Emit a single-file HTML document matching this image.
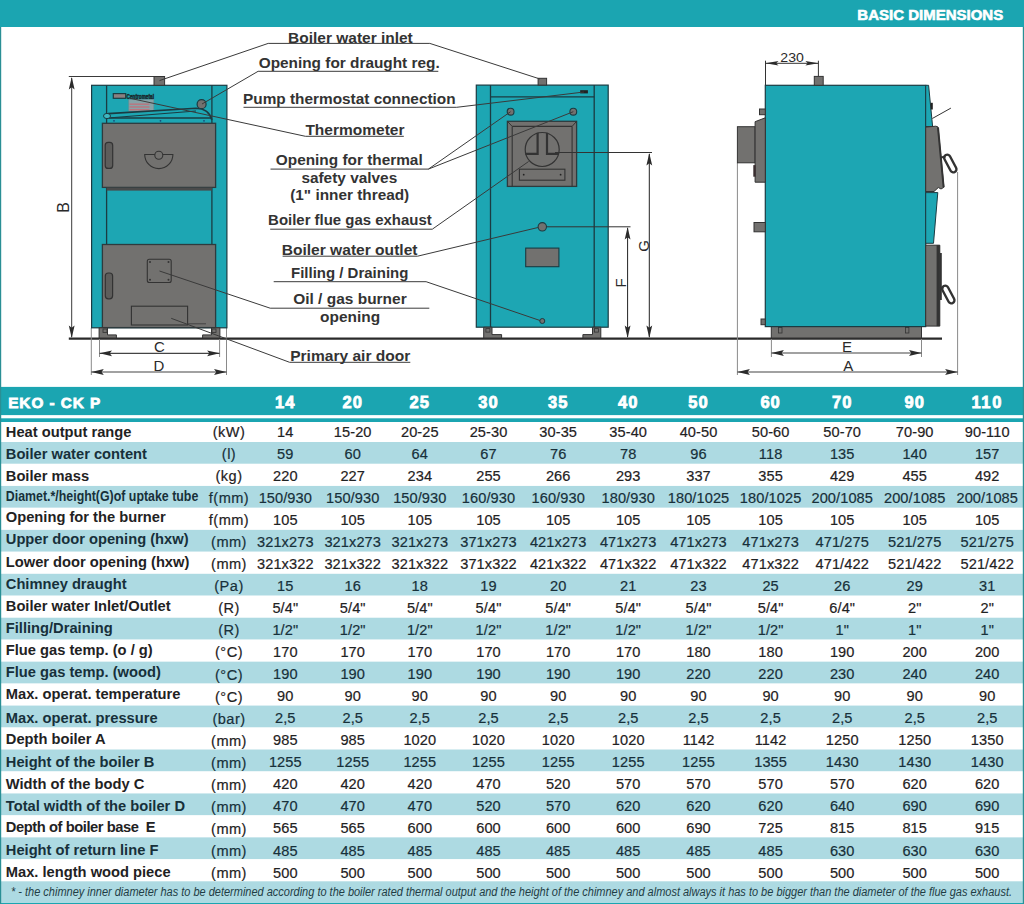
<!DOCTYPE html>
<html><head><meta charset="utf-8"><style>
html,body{margin:0;padding:0;background:#fff;width:1024px;height:904px;overflow:hidden}
svg{display:block}
text{font-family:"Liberation Sans",sans-serif}
</style></head><body>
<svg width="1024" height="904" viewBox="0 0 1024 904">
<line x1="68.8" y1="338.6" x2="942" y2="338.6" stroke="#2a2a2a" stroke-width="2.2"/>
<line x1="68.8" y1="76.5" x2="154" y2="76.5" stroke="#3a3a3a" stroke-width="1"/>
<line x1="71.7" y1="78" x2="71.7" y2="337" stroke="#3a3a3a" stroke-width="1"/>
<polygon points="71.7,77 74.60,89.50 71.70,87.25 68.80,89.50" fill="#2b2b2b"/>
<polygon points="71.7,338 68.80,325.50 71.70,327.75 74.60,325.50" fill="#2b2b2b"/>
<text transform="translate(68.6,207.4) rotate(-90)" text-anchor="middle" font-size="16" fill="#2a2a2a">B</text>
<line x1="91.3" y1="328" x2="91.3" y2="375" stroke="#8a8a8a" stroke-width="1"/>
<line x1="226.5" y1="328" x2="226.5" y2="375" stroke="#8a8a8a" stroke-width="1"/>
<line x1="99.5" y1="339" x2="99.5" y2="357" stroke="#8a8a8a" stroke-width="1"/>
<line x1="219.6" y1="339" x2="219.6" y2="357" stroke="#8a8a8a" stroke-width="1"/>
<line x1="99.5" y1="353.3" x2="219.6" y2="353.3" stroke="#444" stroke-width="1.2"/>
<polygon points="99.5,353.3 112.00,350.40 109.75,353.30 112.00,356.20" fill="#2b2b2b"/>
<polygon points="219.6,353.3 207.10,356.20 209.35,353.30 207.10,350.40" fill="#2b2b2b"/>
<text x="159.3" y="351.8" text-anchor="middle" font-size="15" fill="#2a2a2a">C</text>
<line x1="91.3" y1="372" x2="226.5" y2="372" stroke="#444" stroke-width="1.2"/>
<polygon points="91.3,372 103.80,369.10 101.55,372.00 103.80,374.90" fill="#2b2b2b"/>
<polygon points="226.5,372 214.00,374.90 216.25,372.00 214.00,369.10" fill="#2b2b2b"/>
<text x="158.8" y="370.8" text-anchor="middle" font-size="15" fill="#2a2a2a">D</text>
<rect x="91.6" y="85.3" width="135.30" height="242.50" fill="#1da6b3" stroke="#1b3b42" stroke-width="1.2" rx="0"/>
<line x1="106.6" y1="85.3" x2="106.6" y2="327.8" stroke="#1b3b42" stroke-width="1.3"/>
<line x1="211.9" y1="85.3" x2="211.9" y2="327.8" stroke="#1b3b42" stroke-width="1.3"/>
<rect x="154" y="76.5" width="10.60" height="8.80" fill="#72716f" stroke="#333" stroke-width="1" rx="0"/>
<rect x="113.3" y="93.6" width="12.40" height="4.70" fill="#8b8080" stroke="#1b3b42" stroke-width="1.2" rx="0"/>
<text x="126.5" y="98.6" font-size="6.5" font-weight="bold" fill="#1a2a2e" stroke="#1a2a2e" stroke-width="0.5" textLength="27.5" lengthAdjust="spacingAndGlyphs">Centrometal</text>
<rect x="128.8" y="99.7" width="25.00" height="11.30" fill="#86a3a8" stroke="#6f8b90" stroke-width="0.6" rx="0"/>
<rect x="129.5" y="103.5" width="20" height="1.3" fill="#c0707a"/>
<rect x="129.5" y="106.3" width="20" height="1.3" fill="#c0707a"/>
<rect x="129.5" y="109.1" width="20" height="1.3" fill="#c0707a"/>
<line x1="106.6" y1="118" x2="211.9" y2="118" stroke="#1b3b42" stroke-width="1.3"/>
<path d="M 108 113.6 L 196 108.2 Q 209 108.5 211.9 120" fill="none" stroke="#1b3b42" stroke-width="1.6"/>
<path d="M 108 118 L 196 111 " fill="none" stroke="#1b3b42" stroke-width="1.2"/>
<ellipse cx="107" cy="116" rx="3.5" ry="2.6" fill="#3fb8c2" stroke="#1b3b42" stroke-width="1"/>
<circle cx="114" cy="120.8" r="0.9" fill="#1a4a7a"/>
<circle cx="160.5" cy="120.8" r="0.9" fill="#1a4a7a"/>
<circle cx="204" cy="120.8" r="0.9" fill="#1a4a7a"/>
<circle cx="201.6" cy="104.2" r="4.5" fill="#72716f" stroke="#1b3b42" stroke-width="1.2"/>
<rect x="102.4" y="123.3" width="113.20" height="64.10" fill="#72716f" stroke="#2e3b3e" stroke-width="1.3" rx="0"/>
<rect x="106.6" y="187.6" width="105.3" height="3" fill="#4a4a4a"/>
<rect x="105.2" y="142.4" width="7.5" height="26" rx="3" fill="#5e5d5b" stroke="#333" stroke-width="1.2"/>
<path d="M 144.7 154.5 L 172.9 154.5 A 14.1 14.1 0 0 1 144.7 154.5 Z" fill="#72716f" stroke="#333" stroke-width="1.1"/>
<circle cx="158.8" cy="155.2" r="4" fill="#72716f" stroke="#333" stroke-width="1.1"/>
<rect x="102.4" y="244.5" width="113.20" height="83.10" fill="#72716f" stroke="#2e3b3e" stroke-width="1.3" rx="0"/>
<rect x="147.3" y="259.2" width="23.9" height="23.3" rx="2" fill="#72716f" stroke="#333" stroke-width="1.1"/>
<circle cx="150" cy="262" r="1" fill="#333"/>
<circle cx="168.5" cy="262" r="1" fill="#333"/>
<circle cx="150" cy="279.8" r="1" fill="#333"/>
<circle cx="168.5" cy="279.8" r="1" fill="#333"/>
<rect x="105.3" y="273" width="7.3" height="25.8" rx="3" fill="#5e5d5b" stroke="#333" stroke-width="1.2"/>
<rect x="131.4" y="306.2" width="56.20" height="18.80" fill="#72716f" stroke="#333" stroke-width="1.1" rx="0"/>
<line x1="187.6" y1="323.8" x2="206" y2="323.8" stroke="#444" stroke-width="1"/>
<polygon points="99.1,327.8 107.5,327.8 107.5,334.9 116.39999999999999,334.9 116.39999999999999,338 99.1,338" fill="#72716f" stroke="#333" stroke-width="1"/>
<rect x="103.0" y="329" width="4" height="3.5" fill="#72716f" stroke="#333" stroke-width="0.8"/>
<polygon points="219.9,327.8 211.5,327.8 211.5,334.9 202.6,334.9 202.6,338 219.9,338" fill="#72716f" stroke="#333" stroke-width="1"/>
<rect x="212.0" y="329" width="4" height="3.5" fill="#72716f" stroke="#333" stroke-width="0.8"/>
<rect x="476.3" y="85.1" width="131.90" height="242.10" fill="#1da6b3" stroke="#1b3b42" stroke-width="1.2" rx="0"/>
<line x1="490.5" y1="85.1" x2="490.5" y2="327.2" stroke="#1b3b42" stroke-width="1.3"/>
<line x1="594.2" y1="85.1" x2="594.2" y2="327.2" stroke="#1b3b42" stroke-width="1.3"/>
<line x1="490.5" y1="96.8" x2="594.2" y2="96.8" stroke="#1b3b42" stroke-width="1.3"/>
<rect x="538.1" y="78.3" width="8.50" height="6.80" fill="#72716f" stroke="#333" stroke-width="1" rx="0"/>
<rect x="580.2" y="90.2" width="7.7" height="3.2" fill="#222"/>
<circle cx="510.6" cy="111.7" r="3.4" fill="#72716f" stroke="#1b3b42" stroke-width="1.1"/>
<circle cx="573.3" cy="111.7" r="3.4" fill="#72716f" stroke="#1b3b42" stroke-width="1.1"/>
<rect x="507.4" y="121.3" width="69.20" height="65.10" fill="#72716f" stroke="#2e3b3e" stroke-width="1.3" rx="0"/>
<line x1="512.2" y1="126.4" x2="572.1" y2="126.4" stroke="#333" stroke-width="1.1"/>
<line x1="512.2" y1="126.4" x2="512.2" y2="186.4" stroke="#333" stroke-width="1.1"/>
<line x1="572.1" y1="126.4" x2="572.1" y2="186.4" stroke="#333" stroke-width="1.1"/>
<line x1="507.4" y1="121.3" x2="512.2" y2="126.4" stroke="#333" stroke-width="1"/>
<line x1="576.6" y1="121.3" x2="572.1" y2="126.4" stroke="#333" stroke-width="1"/>
<circle cx="542.2" cy="149.5" r="17" fill="#72716f" stroke="#333" stroke-width="1.2"/>
<path d="M 537.6 132.8 L 537.6 153.8 L 525.4 153.8" fill="none" stroke="#333" stroke-width="2.2"/>
<path d="M 547 132.8 L 547 153.8 L 559 153.8" fill="none" stroke="#333" stroke-width="2.2"/>
<rect x="519.4" y="169.2" width="45.50" height="11.00" fill="#72716f" stroke="#333" stroke-width="1.1" rx="0"/>
<circle cx="523.7" cy="174.7" r="0.9" fill="#222"/>
<circle cx="560.6" cy="174.7" r="0.9" fill="#222"/>
<circle cx="542.3" cy="226.8" r="4.2" fill="#72716f" stroke="#1b3b42" stroke-width="1.1"/>
<rect x="525.7" y="248.1" width="33.20" height="18.60" fill="#72716f" stroke="#1b3b42" stroke-width="1.1" rx="0"/>
<circle cx="542.3" cy="321" r="2.5" fill="#72716f" stroke="#1b3b42" stroke-width="1"/>
<polygon points="483.7,327.2 492.0,327.2 492.0,334.6 501.59999999999997,334.6 501.59999999999997,338 483.7,338" fill="#72716f" stroke="#333" stroke-width="1"/>
<rect x="485.9" y="328.6" width="4" height="3.5" fill="#72716f" stroke="#333" stroke-width="0.8"/>
<polygon points="600.8,327.2 592.5,327.2 592.5,334.6 582.9,334.6 582.9,338 600.8,338" fill="#72716f" stroke="#333" stroke-width="1"/>
<rect x="594.5999999999999" y="328.6" width="4" height="3.5" fill="#72716f" stroke="#333" stroke-width="0.8"/>
<line x1="547" y1="226.8" x2="630.5" y2="226.8" stroke="#333" stroke-width="1"/>
<line x1="627.6" y1="228" x2="627.6" y2="337" stroke="#222" stroke-width="1"/>
<polygon points="627.6,227 630.50,239.50 627.60,237.25 624.70,239.50" fill="#2b2b2b"/>
<polygon points="627.6,338 624.70,325.50 627.60,327.75 630.50,325.50" fill="#2b2b2b"/>
<line x1="555" y1="152.5" x2="652" y2="152.5" stroke="#333" stroke-width="1"/>
<line x1="649.3" y1="154" x2="649.3" y2="337" stroke="#222" stroke-width="1"/>
<polygon points="649.3,153 652.20,165.50 649.30,163.25 646.40,165.50" fill="#2b2b2b"/>
<polygon points="649.3,338 646.40,325.50 649.30,327.75 652.20,325.50" fill="#2b2b2b"/>
<text transform="translate(625.6,283) rotate(-90)" text-anchor="middle" font-size="15" fill="#2a2a2a">F</text>
<text transform="translate(649,246) rotate(-90)" text-anchor="middle" font-size="15" fill="#2a2a2a">G</text>
<line x1="737.4" y1="163" x2="737.4" y2="375" stroke="#8a8a8a" stroke-width="1"/>
<line x1="957.6" y1="172" x2="957.6" y2="375" stroke="#8a8a8a" stroke-width="1"/>
<line x1="737.4" y1="372" x2="957.6" y2="372" stroke="#444" stroke-width="1.2"/>
<polygon points="737.4,372 749.90,369.10 747.65,372.00 749.90,374.90" fill="#2b2b2b"/>
<polygon points="957.6,372 945.10,374.90 947.35,372.00 945.10,369.10" fill="#2b2b2b"/>
<text x="848.2" y="371" text-anchor="middle" font-size="15" fill="#2a2a2a">A</text>
<line x1="771.4" y1="339" x2="771.4" y2="357" stroke="#8a8a8a" stroke-width="1"/>
<line x1="921.5" y1="339" x2="921.5" y2="357" stroke="#8a8a8a" stroke-width="1"/>
<line x1="771.4" y1="353" x2="921.5" y2="353" stroke="#444" stroke-width="1.2"/>
<polygon points="771.4,353 783.90,350.10 781.65,353.00 783.90,355.90" fill="#2b2b2b"/>
<polygon points="921.5,353 909.00,355.90 911.25,353.00 909.00,350.10" fill="#2b2b2b"/>
<text x="847" y="352.2" text-anchor="middle" font-size="15" fill="#2a2a2a">E</text>
<line x1="765.5" y1="60.7" x2="765.5" y2="85" stroke="#333" stroke-width="1"/>
<line x1="818.4" y1="60.7" x2="818.4" y2="76.4" stroke="#333" stroke-width="1"/>
<line x1="765.5" y1="63.3" x2="818.4" y2="63.3" stroke="#333" stroke-width="1"/>
<polygon points="765.5,63.3 778.50,61.00 776.16,63.30 778.50,65.60" fill="#2b2b2b"/>
<polygon points="818.4,63.3 805.40,65.60 807.74,63.30 805.40,61.00" fill="#2b2b2b"/>
<text x="780.3" y="62.2" font-size="12.5" fill="#2a2a2a" textLength="23.5" lengthAdjust="spacingAndGlyphs">230</text>
<rect x="771.3" y="326.4" width="150.20" height="11.60" fill="#72716f" stroke="#333" stroke-width="1" rx="0"/>
<rect x="778.6" y="327.5" width="3.4" height="5.5" fill="#72716f" stroke="#333" stroke-width="0.8"/>
<rect x="905.5" y="327.5" width="3.4" height="5.5" fill="#72716f" stroke="#333" stroke-width="0.8"/>
<rect x="765.3" y="85.3" width="160.40" height="241.30" fill="#1da6b3" stroke="#1b3b42" stroke-width="1.2" rx="0"/>
<rect x="814.3" y="76.4" width="8.90" height="8.90" fill="#72716f" stroke="#333" stroke-width="1" rx="0"/>
<rect x="759.5" y="109" width="5.80" height="5.70" fill="#72716f" stroke="#333" stroke-width="1" rx="0"/>
<rect x="737.4" y="126.7" width="17.70" height="36.10" fill="#72716f" stroke="#333" stroke-width="1" rx="0"/>
<polygon points="755.1,121.7 765.3,117.8 765.3,182.2 755.1,182.2" fill="#72716f" stroke="#333" stroke-width="1"/>
<rect x="753.3" y="165.1" width="2.4" height="11.6" fill="#3a2e30"/>
<rect x="754" y="222.5" width="11.30" height="9.30" fill="#72716f" stroke="#333" stroke-width="1" rx="0"/>
<rect x="761" y="319" width="4.30" height="5.70" fill="#72716f" stroke="#333" stroke-width="1" rx="0"/>
<polygon points="925.7,85.3 928.6,85.3 932.6,126.5 925.7,126.5" fill="#1da6b3" stroke="#1b3b42" stroke-width="1"/>
<rect x="930.6" y="102.8" width="2.2" height="6.7" fill="#222"/>
<line x1="932.3" y1="118.5" x2="950.9" y2="108.1" stroke="#333" stroke-width="1"/>
<polygon points="925.7,127.1 935.9,126.2 938,127 943.9,187.3 941,189 938.3,187.5 934,191.5 925.7,191.5" fill="#72716f" stroke="#333" stroke-width="1"/>
<line x1="938" y1="127.5" x2="943.6" y2="187" stroke="#333" stroke-width="2"/>
<rect x="-3.1" y="-9.6" width="6.2" height="19.2" rx="3.1" fill="none" stroke="#333" stroke-width="2.4" transform="translate(950.3 163.5) rotate(-28)"/>
<line x1="941" y1="157.5" x2="945.5" y2="156.5" stroke="#333" stroke-width="2"/>
<polygon points="925.7,192.6 937.8,192.6 933.5,243.3 925.7,243.3" fill="#1da6b3" stroke="#1b3b42" stroke-width="1"/>
<polygon points="925.7,245.2 939.8,245.2 939.8,326.1 925.7,326.1" fill="#72716f" stroke="#333" stroke-width="1"/>
<rect x="936.6" y="245.2" width="3.2" height="80.9" fill="#333"/>
<rect x="939.8" y="253" width="2" height="47" fill="#333"/>
<rect x="-3.1" y="-9.6" width="6.2" height="19.2" rx="3.1" fill="none" stroke="#333" stroke-width="2.4" transform="translate(948.3 294.5) rotate(-28)"/>
<line x1="940" y1="288" x2="943.5" y2="287.5" stroke="#333" stroke-width="2"/>
<text x="288.1" y="43.2" font-weight="bold" font-size="15.2" fill="#333333" textLength="124.7" lengthAdjust="spacingAndGlyphs">Boiler water inlet</text>
<line x1="268.2" y1="43.4" x2="429.8" y2="43.4" stroke="#3a3a3a" stroke-width="1"/>
<line x1="268.2" y1="43.4" x2="159.5" y2="80.6" stroke="#3a3a3a" stroke-width="1"/>
<line x1="429.8" y1="43.4" x2="540" y2="79" stroke="#3a3a3a" stroke-width="1"/>
<text x="258.7" y="67.9" font-weight="bold" font-size="15.2" fill="#333333" textLength="181.0" lengthAdjust="spacingAndGlyphs">Opening for draught reg.</text>
<line x1="258.1" y1="71.3" x2="438.3" y2="71.3" stroke="#3a3a3a" stroke-width="1"/>
<line x1="258.1" y1="71.3" x2="202" y2="104" stroke="#3a3a3a" stroke-width="1"/>
<text x="243.0" y="103.7" font-weight="bold" font-size="15.2" fill="#333333" textLength="212.6" lengthAdjust="spacingAndGlyphs">Pump thermostat connection</text>
<line x1="243.5" y1="107.3" x2="456.7" y2="107.3" stroke="#3a3a3a" stroke-width="1"/>
<line x1="456.7" y1="107.3" x2="584" y2="92" stroke="#3a3a3a" stroke-width="1"/>
<text x="305.4" y="134.6" font-weight="bold" font-size="15.2" fill="#333333" textLength="99.1" lengthAdjust="spacingAndGlyphs">Thermometer</text>
<line x1="305.4" y1="136.3" x2="403.8" y2="136.3" stroke="#3a3a3a" stroke-width="1"/>
<line x1="305.4" y1="136.3" x2="130.2" y2="98.3" stroke="#3a3a3a" stroke-width="1"/>
<text x="275.8" y="164.7" font-weight="bold" font-size="15.2" fill="#333333" textLength="146.9" lengthAdjust="spacingAndGlyphs">Opening for thermal</text>
<line x1="270.5" y1="169.1" x2="428.4" y2="169.1" stroke="#3a3a3a" stroke-width="1"/>
<line x1="428.4" y1="169.1" x2="510.6" y2="111.7" stroke="#3a3a3a" stroke-width="1"/>
<line x1="428.4" y1="169.1" x2="573.3" y2="111.7" stroke="#3a3a3a" stroke-width="1"/>
<text x="301.4" y="182.6" font-weight="bold" font-size="15.2" fill="#333333" textLength="95.8" lengthAdjust="spacingAndGlyphs">safety valves</text>
<text x="290.2" y="199.7" font-weight="bold" font-size="15.2" fill="#333333" textLength="119.0" lengthAdjust="spacingAndGlyphs">(1&quot; inner thread)</text>
<text x="268.1" y="224.6" font-weight="bold" font-size="15.2" fill="#333333" textLength="163.6" lengthAdjust="spacingAndGlyphs">Boiler flue gas exhaust</text>
<line x1="270.2" y1="229.2" x2="432.3" y2="229.2" stroke="#3a3a3a" stroke-width="1"/>
<line x1="432.3" y1="229.2" x2="528.6" y2="161.5" stroke="#3a3a3a" stroke-width="1"/>
<text x="281.7" y="254.9" font-weight="bold" font-size="15.2" fill="#333333" textLength="135.8" lengthAdjust="spacingAndGlyphs">Boiler water outlet</text>
<line x1="282.6" y1="256.2" x2="417.5" y2="256.2" stroke="#3a3a3a" stroke-width="1"/>
<line x1="417.5" y1="256.2" x2="538" y2="227.5" stroke="#3a3a3a" stroke-width="1"/>
<text x="291.0" y="277.5" font-weight="bold" font-size="15.2" fill="#333333" textLength="117.4" lengthAdjust="spacingAndGlyphs">Filling / Draining</text>
<line x1="273.7" y1="281.7" x2="426.1" y2="281.7" stroke="#3a3a3a" stroke-width="1"/>
<line x1="426.1" y1="281.7" x2="540" y2="320.5" stroke="#3a3a3a" stroke-width="1"/>
<text x="293.2" y="303.7" font-weight="bold" font-size="15.2" fill="#333333" textLength="113.5" lengthAdjust="spacingAndGlyphs">Oil / gas burner</text>
<line x1="270.2" y1="308.2" x2="429.3" y2="308.2" stroke="#3a3a3a" stroke-width="1"/>
<line x1="270.2" y1="308.2" x2="159.5" y2="271" stroke="#3a3a3a" stroke-width="1"/>
<text x="320.1" y="321.6" font-weight="bold" font-size="15.2" fill="#333333" textLength="60.0" lengthAdjust="spacingAndGlyphs">opening</text>
<text x="290.2" y="361.1" font-weight="bold" font-size="15.2" fill="#333333" textLength="120.1" lengthAdjust="spacingAndGlyphs">Primary air door</text>
<line x1="289.6" y1="362.3" x2="410.3" y2="362.3" stroke="#3a3a3a" stroke-width="1"/>
<line x1="289.6" y1="362.3" x2="171.2" y2="318.3" stroke="#3a3a3a" stroke-width="1"/>
<rect x="0" y="0" width="1024" height="27" fill="#1ba5b1"/>
<text x="1003.2" y="19.8" text-anchor="end" font-weight="bold" font-size="15" fill="#fff" stroke="#fff" stroke-width="0.6" letter-spacing="0">BASIC DIMENSIONS</text>
<rect x="0" y="386.9" width="1024" height="28.2" fill="#1ba5b1"/>
<rect x="0" y="418.3" width="1024" height="3.7" fill="#1ba5b1"/>
<text x="8.2" y="407.9" font-weight="bold" font-size="15.3" fill="#fff" stroke="#fff" stroke-width="0.8" textLength="92" lengthAdjust="spacing">EKO - CK P</text>
<text x="285.3" y="408.1" text-anchor="middle" font-weight="bold" font-size="16.5" fill="#fff" stroke="#fff" stroke-width="0.8" letter-spacing="1.0">14</text>
<text x="352.7" y="408.1" text-anchor="middle" font-weight="bold" font-size="16.5" fill="#fff" stroke="#fff" stroke-width="0.8" letter-spacing="1.0">20</text>
<text x="419.8" y="408.1" text-anchor="middle" font-weight="bold" font-size="16.5" fill="#fff" stroke="#fff" stroke-width="0.8" letter-spacing="1.0">25</text>
<text x="488.5" y="408.1" text-anchor="middle" font-weight="bold" font-size="16.5" fill="#fff" stroke="#fff" stroke-width="0.8" letter-spacing="1.0">30</text>
<text x="558.2" y="408.1" text-anchor="middle" font-weight="bold" font-size="16.5" fill="#fff" stroke="#fff" stroke-width="0.8" letter-spacing="1.0">35</text>
<text x="628.2" y="408.1" text-anchor="middle" font-weight="bold" font-size="16.5" fill="#fff" stroke="#fff" stroke-width="0.8" letter-spacing="1.0">40</text>
<text x="698.5" y="408.1" text-anchor="middle" font-weight="bold" font-size="16.5" fill="#fff" stroke="#fff" stroke-width="0.8" letter-spacing="1.0">50</text>
<text x="770.6" y="408.1" text-anchor="middle" font-weight="bold" font-size="16.5" fill="#fff" stroke="#fff" stroke-width="0.8" letter-spacing="1.0">60</text>
<text x="842.2" y="408.1" text-anchor="middle" font-weight="bold" font-size="16.5" fill="#fff" stroke="#fff" stroke-width="0.8" letter-spacing="1.0">70</text>
<text x="914.7" y="408.1" text-anchor="middle" font-weight="bold" font-size="16.5" fill="#fff" stroke="#fff" stroke-width="0.8" letter-spacing="1.0">90</text>
<text x="987.2" y="408.1" text-anchor="middle" font-weight="bold" font-size="16.5" fill="#fff" stroke="#fff" stroke-width="0.8" letter-spacing="1.6">110</text>
<rect x="0" y="442.00" width="1024" height="21.7" fill="#addae2"/>
<rect x="0" y="485.93" width="1024" height="21.7" fill="#addae2"/>
<rect x="0" y="529.86" width="1024" height="21.7" fill="#addae2"/>
<rect x="0" y="573.79" width="1024" height="21.7" fill="#addae2"/>
<rect x="0" y="617.72" width="1024" height="21.7" fill="#addae2"/>
<rect x="0" y="661.65" width="1024" height="21.7" fill="#addae2"/>
<rect x="0" y="705.58" width="1024" height="21.7" fill="#addae2"/>
<rect x="0" y="749.51" width="1024" height="21.7" fill="#addae2"/>
<rect x="0" y="793.44" width="1024" height="21.7" fill="#addae2"/>
<rect x="0" y="837.37" width="1024" height="21.7" fill="#addae2"/>
<text transform="translate(5.8 436.70) scale(0.967 1)" x="0" y="0" font-weight="bold" font-size="15.2" fill="#1f2223">Heat output range</text>
<text transform="translate(229 436.90) scale(0.96 1)" x="0" y="0" text-anchor="middle" font-size="15.2" fill="#1f2223" stroke="#1f2223" stroke-width="0.2" letter-spacing="0.5">(kW)</text>
<text transform="translate(285.3 436.50) scale(0.96 1)" x="0" y="0" text-anchor="middle" font-size="15.2" fill="#1f2223" stroke="#1f2223" stroke-width="0.2" letter-spacing="0.1">14</text>
<text transform="translate(352.7 436.50) scale(0.96 1)" x="0" y="0" text-anchor="middle" font-size="15.2" fill="#1f2223" stroke="#1f2223" stroke-width="0.2" letter-spacing="0.1">15-20</text>
<text transform="translate(419.8 436.50) scale(0.96 1)" x="0" y="0" text-anchor="middle" font-size="15.2" fill="#1f2223" stroke="#1f2223" stroke-width="0.2" letter-spacing="0.1">20-25</text>
<text transform="translate(488.5 436.50) scale(0.96 1)" x="0" y="0" text-anchor="middle" font-size="15.2" fill="#1f2223" stroke="#1f2223" stroke-width="0.2" letter-spacing="0.1">25-30</text>
<text transform="translate(558.2 436.50) scale(0.96 1)" x="0" y="0" text-anchor="middle" font-size="15.2" fill="#1f2223" stroke="#1f2223" stroke-width="0.2" letter-spacing="0.1">30-35</text>
<text transform="translate(628.2 436.50) scale(0.96 1)" x="0" y="0" text-anchor="middle" font-size="15.2" fill="#1f2223" stroke="#1f2223" stroke-width="0.2" letter-spacing="0.1">35-40</text>
<text transform="translate(698.5 436.50) scale(0.96 1)" x="0" y="0" text-anchor="middle" font-size="15.2" fill="#1f2223" stroke="#1f2223" stroke-width="0.2" letter-spacing="0.1">40-50</text>
<text transform="translate(770.6 436.50) scale(0.96 1)" x="0" y="0" text-anchor="middle" font-size="15.2" fill="#1f2223" stroke="#1f2223" stroke-width="0.2" letter-spacing="0.1">50-60</text>
<text transform="translate(842.2 436.50) scale(0.96 1)" x="0" y="0" text-anchor="middle" font-size="15.2" fill="#1f2223" stroke="#1f2223" stroke-width="0.2" letter-spacing="0.1">50-70</text>
<text transform="translate(914.7 436.50) scale(0.96 1)" x="0" y="0" text-anchor="middle" font-size="15.2" fill="#1f2223" stroke="#1f2223" stroke-width="0.2" letter-spacing="0.1">70-90</text>
<text transform="translate(987.2 436.50) scale(0.96 1)" x="0" y="0" text-anchor="middle" font-size="15.2" fill="#1f2223" stroke="#1f2223" stroke-width="0.2" letter-spacing="0.1">90-110</text>
<text transform="translate(5.8 458.70) scale(0.967 1)" x="0" y="0" font-weight="bold" font-size="15.2" fill="#17303a">Boiler water content</text>
<text transform="translate(229 458.96) scale(0.96 1)" x="0" y="0" text-anchor="middle" font-size="15.2" fill="#17303a" stroke="#17303a" stroke-width="0.2" letter-spacing="0.5">(l)</text>
<text transform="translate(285.3 458.56) scale(0.96 1)" x="0" y="0" text-anchor="middle" font-size="15.2" fill="#17303a" stroke="#17303a" stroke-width="0.2" letter-spacing="0.1">59</text>
<text transform="translate(352.7 458.56) scale(0.96 1)" x="0" y="0" text-anchor="middle" font-size="15.2" fill="#17303a" stroke="#17303a" stroke-width="0.2" letter-spacing="0.1">60</text>
<text transform="translate(419.8 458.56) scale(0.96 1)" x="0" y="0" text-anchor="middle" font-size="15.2" fill="#17303a" stroke="#17303a" stroke-width="0.2" letter-spacing="0.1">64</text>
<text transform="translate(488.5 458.56) scale(0.96 1)" x="0" y="0" text-anchor="middle" font-size="15.2" fill="#17303a" stroke="#17303a" stroke-width="0.2" letter-spacing="0.1">67</text>
<text transform="translate(558.2 458.56) scale(0.96 1)" x="0" y="0" text-anchor="middle" font-size="15.2" fill="#17303a" stroke="#17303a" stroke-width="0.2" letter-spacing="0.1">76</text>
<text transform="translate(628.2 458.56) scale(0.96 1)" x="0" y="0" text-anchor="middle" font-size="15.2" fill="#17303a" stroke="#17303a" stroke-width="0.2" letter-spacing="0.1">78</text>
<text transform="translate(698.5 458.56) scale(0.96 1)" x="0" y="0" text-anchor="middle" font-size="15.2" fill="#17303a" stroke="#17303a" stroke-width="0.2" letter-spacing="0.1">96</text>
<text transform="translate(770.6 458.56) scale(0.96 1)" x="0" y="0" text-anchor="middle" font-size="15.2" fill="#17303a" stroke="#17303a" stroke-width="0.2" letter-spacing="0.1">118</text>
<text transform="translate(842.2 458.56) scale(0.96 1)" x="0" y="0" text-anchor="middle" font-size="15.2" fill="#17303a" stroke="#17303a" stroke-width="0.2" letter-spacing="0.1">135</text>
<text transform="translate(914.7 458.56) scale(0.96 1)" x="0" y="0" text-anchor="middle" font-size="15.2" fill="#17303a" stroke="#17303a" stroke-width="0.2" letter-spacing="0.1">140</text>
<text transform="translate(987.2 458.56) scale(0.96 1)" x="0" y="0" text-anchor="middle" font-size="15.2" fill="#17303a" stroke="#17303a" stroke-width="0.2" letter-spacing="0.1">157</text>
<text transform="translate(5.8 480.50) scale(0.967 1)" x="0" y="0" font-weight="bold" font-size="15.2" fill="#1f2223">Boiler mass</text>
<text transform="translate(229 481.01) scale(0.96 1)" x="0" y="0" text-anchor="middle" font-size="15.2" fill="#1f2223" stroke="#1f2223" stroke-width="0.2" letter-spacing="0.5">(kg)</text>
<text transform="translate(285.3 480.61) scale(0.96 1)" x="0" y="0" text-anchor="middle" font-size="15.2" fill="#1f2223" stroke="#1f2223" stroke-width="0.2" letter-spacing="0.1">220</text>
<text transform="translate(352.7 480.61) scale(0.96 1)" x="0" y="0" text-anchor="middle" font-size="15.2" fill="#1f2223" stroke="#1f2223" stroke-width="0.2" letter-spacing="0.1">227</text>
<text transform="translate(419.8 480.61) scale(0.96 1)" x="0" y="0" text-anchor="middle" font-size="15.2" fill="#1f2223" stroke="#1f2223" stroke-width="0.2" letter-spacing="0.1">234</text>
<text transform="translate(488.5 480.61) scale(0.96 1)" x="0" y="0" text-anchor="middle" font-size="15.2" fill="#1f2223" stroke="#1f2223" stroke-width="0.2" letter-spacing="0.1">255</text>
<text transform="translate(558.2 480.61) scale(0.96 1)" x="0" y="0" text-anchor="middle" font-size="15.2" fill="#1f2223" stroke="#1f2223" stroke-width="0.2" letter-spacing="0.1">266</text>
<text transform="translate(628.2 480.61) scale(0.96 1)" x="0" y="0" text-anchor="middle" font-size="15.2" fill="#1f2223" stroke="#1f2223" stroke-width="0.2" letter-spacing="0.1">293</text>
<text transform="translate(698.5 480.61) scale(0.96 1)" x="0" y="0" text-anchor="middle" font-size="15.2" fill="#1f2223" stroke="#1f2223" stroke-width="0.2" letter-spacing="0.1">337</text>
<text transform="translate(770.6 480.61) scale(0.96 1)" x="0" y="0" text-anchor="middle" font-size="15.2" fill="#1f2223" stroke="#1f2223" stroke-width="0.2" letter-spacing="0.1">355</text>
<text transform="translate(842.2 480.61) scale(0.96 1)" x="0" y="0" text-anchor="middle" font-size="15.2" fill="#1f2223" stroke="#1f2223" stroke-width="0.2" letter-spacing="0.1">429</text>
<text transform="translate(914.7 480.61) scale(0.96 1)" x="0" y="0" text-anchor="middle" font-size="15.2" fill="#1f2223" stroke="#1f2223" stroke-width="0.2" letter-spacing="0.1">455</text>
<text transform="translate(987.2 480.61) scale(0.96 1)" x="0" y="0" text-anchor="middle" font-size="15.2" fill="#1f2223" stroke="#1f2223" stroke-width="0.2" letter-spacing="0.1">492</text>
<text transform="translate(5.8 500.50) scale(0.885 1)" x="0" y="0" font-weight="bold" font-size="14.0" fill="#17303a">Diamet.*/height(G)of uptake tube</text>
<text transform="translate(229 503.07) scale(0.96 1)" x="0" y="0" text-anchor="middle" font-size="15.2" fill="#17303a" stroke="#17303a" stroke-width="0.2" letter-spacing="0.5">f(mm)</text>
<text transform="translate(285.3 502.67) scale(0.96 1)" x="0" y="0" text-anchor="middle" font-size="15.2" fill="#17303a" stroke="#17303a" stroke-width="0.2" letter-spacing="0.1">150/930</text>
<text transform="translate(352.7 502.67) scale(0.96 1)" x="0" y="0" text-anchor="middle" font-size="15.2" fill="#17303a" stroke="#17303a" stroke-width="0.2" letter-spacing="0.1">150/930</text>
<text transform="translate(419.8 502.67) scale(0.96 1)" x="0" y="0" text-anchor="middle" font-size="15.2" fill="#17303a" stroke="#17303a" stroke-width="0.2" letter-spacing="0.1">150/930</text>
<text transform="translate(488.5 502.67) scale(0.96 1)" x="0" y="0" text-anchor="middle" font-size="15.2" fill="#17303a" stroke="#17303a" stroke-width="0.2" letter-spacing="0.1">160/930</text>
<text transform="translate(558.2 502.67) scale(0.96 1)" x="0" y="0" text-anchor="middle" font-size="15.2" fill="#17303a" stroke="#17303a" stroke-width="0.2" letter-spacing="0.1">160/930</text>
<text transform="translate(628.2 502.67) scale(0.96 1)" x="0" y="0" text-anchor="middle" font-size="15.2" fill="#17303a" stroke="#17303a" stroke-width="0.2" letter-spacing="0.1">180/930</text>
<text transform="translate(698.5 502.67) scale(0.96 1)" x="0" y="0" text-anchor="middle" font-size="15.2" fill="#17303a" stroke="#17303a" stroke-width="0.2" letter-spacing="0.1">180/1025</text>
<text transform="translate(770.6 502.67) scale(0.96 1)" x="0" y="0" text-anchor="middle" font-size="15.2" fill="#17303a" stroke="#17303a" stroke-width="0.2" letter-spacing="0.1">180/1025</text>
<text transform="translate(842.2 502.67) scale(0.96 1)" x="0" y="0" text-anchor="middle" font-size="15.2" fill="#17303a" stroke="#17303a" stroke-width="0.2" letter-spacing="0.1">200/1085</text>
<text transform="translate(914.7 502.67) scale(0.96 1)" x="0" y="0" text-anchor="middle" font-size="15.2" fill="#17303a" stroke="#17303a" stroke-width="0.2" letter-spacing="0.1">200/1085</text>
<text transform="translate(987.2 502.67) scale(0.96 1)" x="0" y="0" text-anchor="middle" font-size="15.2" fill="#17303a" stroke="#17303a" stroke-width="0.2" letter-spacing="0.1">200/1085</text>
<text transform="translate(5.8 522.20) scale(0.967 1)" x="0" y="0" font-weight="bold" font-size="15.2" fill="#1f2223">Opening for the burner</text>
<text transform="translate(229 525.12) scale(0.96 1)" x="0" y="0" text-anchor="middle" font-size="15.2" fill="#1f2223" stroke="#1f2223" stroke-width="0.2" letter-spacing="0.5">f(mm)</text>
<text transform="translate(285.3 524.72) scale(0.96 1)" x="0" y="0" text-anchor="middle" font-size="15.2" fill="#1f2223" stroke="#1f2223" stroke-width="0.2" letter-spacing="0.1">105</text>
<text transform="translate(352.7 524.72) scale(0.96 1)" x="0" y="0" text-anchor="middle" font-size="15.2" fill="#1f2223" stroke="#1f2223" stroke-width="0.2" letter-spacing="0.1">105</text>
<text transform="translate(419.8 524.72) scale(0.96 1)" x="0" y="0" text-anchor="middle" font-size="15.2" fill="#1f2223" stroke="#1f2223" stroke-width="0.2" letter-spacing="0.1">105</text>
<text transform="translate(488.5 524.72) scale(0.96 1)" x="0" y="0" text-anchor="middle" font-size="15.2" fill="#1f2223" stroke="#1f2223" stroke-width="0.2" letter-spacing="0.1">105</text>
<text transform="translate(558.2 524.72) scale(0.96 1)" x="0" y="0" text-anchor="middle" font-size="15.2" fill="#1f2223" stroke="#1f2223" stroke-width="0.2" letter-spacing="0.1">105</text>
<text transform="translate(628.2 524.72) scale(0.96 1)" x="0" y="0" text-anchor="middle" font-size="15.2" fill="#1f2223" stroke="#1f2223" stroke-width="0.2" letter-spacing="0.1">105</text>
<text transform="translate(698.5 524.72) scale(0.96 1)" x="0" y="0" text-anchor="middle" font-size="15.2" fill="#1f2223" stroke="#1f2223" stroke-width="0.2" letter-spacing="0.1">105</text>
<text transform="translate(770.6 524.72) scale(0.96 1)" x="0" y="0" text-anchor="middle" font-size="15.2" fill="#1f2223" stroke="#1f2223" stroke-width="0.2" letter-spacing="0.1">105</text>
<text transform="translate(842.2 524.72) scale(0.96 1)" x="0" y="0" text-anchor="middle" font-size="15.2" fill="#1f2223" stroke="#1f2223" stroke-width="0.2" letter-spacing="0.1">105</text>
<text transform="translate(914.7 524.72) scale(0.96 1)" x="0" y="0" text-anchor="middle" font-size="15.2" fill="#1f2223" stroke="#1f2223" stroke-width="0.2" letter-spacing="0.1">105</text>
<text transform="translate(987.2 524.72) scale(0.96 1)" x="0" y="0" text-anchor="middle" font-size="15.2" fill="#1f2223" stroke="#1f2223" stroke-width="0.2" letter-spacing="0.1">105</text>
<text transform="translate(5.8 544.30) scale(0.967 1)" x="0" y="0" font-weight="bold" font-size="15.2" fill="#17303a">Upper door opening (hxw)</text>
<text transform="translate(229 547.18) scale(0.96 1)" x="0" y="0" text-anchor="middle" font-size="15.2" fill="#17303a" stroke="#17303a" stroke-width="0.2" letter-spacing="0.5">(mm)</text>
<text transform="translate(285.3 546.78) scale(0.96 1)" x="0" y="0" text-anchor="middle" font-size="15.2" fill="#17303a" stroke="#17303a" stroke-width="0.2" letter-spacing="0.1">321x273</text>
<text transform="translate(352.7 546.78) scale(0.96 1)" x="0" y="0" text-anchor="middle" font-size="15.2" fill="#17303a" stroke="#17303a" stroke-width="0.2" letter-spacing="0.1">321x273</text>
<text transform="translate(419.8 546.78) scale(0.96 1)" x="0" y="0" text-anchor="middle" font-size="15.2" fill="#17303a" stroke="#17303a" stroke-width="0.2" letter-spacing="0.1">321x273</text>
<text transform="translate(488.5 546.78) scale(0.96 1)" x="0" y="0" text-anchor="middle" font-size="15.2" fill="#17303a" stroke="#17303a" stroke-width="0.2" letter-spacing="0.1">371x273</text>
<text transform="translate(558.2 546.78) scale(0.96 1)" x="0" y="0" text-anchor="middle" font-size="15.2" fill="#17303a" stroke="#17303a" stroke-width="0.2" letter-spacing="0.1">421x273</text>
<text transform="translate(628.2 546.78) scale(0.96 1)" x="0" y="0" text-anchor="middle" font-size="15.2" fill="#17303a" stroke="#17303a" stroke-width="0.2" letter-spacing="0.1">471x273</text>
<text transform="translate(698.5 546.78) scale(0.96 1)" x="0" y="0" text-anchor="middle" font-size="15.2" fill="#17303a" stroke="#17303a" stroke-width="0.2" letter-spacing="0.1">471x273</text>
<text transform="translate(770.6 546.78) scale(0.96 1)" x="0" y="0" text-anchor="middle" font-size="15.2" fill="#17303a" stroke="#17303a" stroke-width="0.2" letter-spacing="0.1">471x273</text>
<text transform="translate(842.2 546.78) scale(0.96 1)" x="0" y="0" text-anchor="middle" font-size="15.2" fill="#17303a" stroke="#17303a" stroke-width="0.2" letter-spacing="0.1">471/275</text>
<text transform="translate(914.7 546.78) scale(0.96 1)" x="0" y="0" text-anchor="middle" font-size="15.2" fill="#17303a" stroke="#17303a" stroke-width="0.2" letter-spacing="0.1">521/275</text>
<text transform="translate(987.2 546.78) scale(0.96 1)" x="0" y="0" text-anchor="middle" font-size="15.2" fill="#17303a" stroke="#17303a" stroke-width="0.2" letter-spacing="0.1">521/275</text>
<text transform="translate(5.8 566.70) scale(0.967 1)" x="0" y="0" font-weight="bold" font-size="15.2" fill="#1f2223">Lower door opening (hxw)</text>
<text transform="translate(229 569.23) scale(0.96 1)" x="0" y="0" text-anchor="middle" font-size="15.2" fill="#1f2223" stroke="#1f2223" stroke-width="0.2" letter-spacing="0.5">(mm)</text>
<text transform="translate(285.3 568.83) scale(0.96 1)" x="0" y="0" text-anchor="middle" font-size="15.2" fill="#1f2223" stroke="#1f2223" stroke-width="0.2" letter-spacing="0.1">321x322</text>
<text transform="translate(352.7 568.83) scale(0.96 1)" x="0" y="0" text-anchor="middle" font-size="15.2" fill="#1f2223" stroke="#1f2223" stroke-width="0.2" letter-spacing="0.1">321x322</text>
<text transform="translate(419.8 568.83) scale(0.96 1)" x="0" y="0" text-anchor="middle" font-size="15.2" fill="#1f2223" stroke="#1f2223" stroke-width="0.2" letter-spacing="0.1">321x322</text>
<text transform="translate(488.5 568.83) scale(0.96 1)" x="0" y="0" text-anchor="middle" font-size="15.2" fill="#1f2223" stroke="#1f2223" stroke-width="0.2" letter-spacing="0.1">371x322</text>
<text transform="translate(558.2 568.83) scale(0.96 1)" x="0" y="0" text-anchor="middle" font-size="15.2" fill="#1f2223" stroke="#1f2223" stroke-width="0.2" letter-spacing="0.1">421x322</text>
<text transform="translate(628.2 568.83) scale(0.96 1)" x="0" y="0" text-anchor="middle" font-size="15.2" fill="#1f2223" stroke="#1f2223" stroke-width="0.2" letter-spacing="0.1">471x322</text>
<text transform="translate(698.5 568.83) scale(0.96 1)" x="0" y="0" text-anchor="middle" font-size="15.2" fill="#1f2223" stroke="#1f2223" stroke-width="0.2" letter-spacing="0.1">471x322</text>
<text transform="translate(770.6 568.83) scale(0.96 1)" x="0" y="0" text-anchor="middle" font-size="15.2" fill="#1f2223" stroke="#1f2223" stroke-width="0.2" letter-spacing="0.1">471x322</text>
<text transform="translate(842.2 568.83) scale(0.96 1)" x="0" y="0" text-anchor="middle" font-size="15.2" fill="#1f2223" stroke="#1f2223" stroke-width="0.2" letter-spacing="0.1">471/422</text>
<text transform="translate(914.7 568.83) scale(0.96 1)" x="0" y="0" text-anchor="middle" font-size="15.2" fill="#1f2223" stroke="#1f2223" stroke-width="0.2" letter-spacing="0.1">521/422</text>
<text transform="translate(987.2 568.83) scale(0.96 1)" x="0" y="0" text-anchor="middle" font-size="15.2" fill="#1f2223" stroke="#1f2223" stroke-width="0.2" letter-spacing="0.1">521/422</text>
<text transform="translate(5.8 588.90) scale(0.967 1)" x="0" y="0" font-weight="bold" font-size="15.2" fill="#17303a">Chimney draught</text>
<text transform="translate(229 591.29) scale(0.96 1)" x="0" y="0" text-anchor="middle" font-size="15.2" fill="#17303a" stroke="#17303a" stroke-width="0.2" letter-spacing="0.5">(Pa)</text>
<text transform="translate(285.3 590.89) scale(0.96 1)" x="0" y="0" text-anchor="middle" font-size="15.2" fill="#17303a" stroke="#17303a" stroke-width="0.2" letter-spacing="0.1">15</text>
<text transform="translate(352.7 590.89) scale(0.96 1)" x="0" y="0" text-anchor="middle" font-size="15.2" fill="#17303a" stroke="#17303a" stroke-width="0.2" letter-spacing="0.1">16</text>
<text transform="translate(419.8 590.89) scale(0.96 1)" x="0" y="0" text-anchor="middle" font-size="15.2" fill="#17303a" stroke="#17303a" stroke-width="0.2" letter-spacing="0.1">18</text>
<text transform="translate(488.5 590.89) scale(0.96 1)" x="0" y="0" text-anchor="middle" font-size="15.2" fill="#17303a" stroke="#17303a" stroke-width="0.2" letter-spacing="0.1">19</text>
<text transform="translate(558.2 590.89) scale(0.96 1)" x="0" y="0" text-anchor="middle" font-size="15.2" fill="#17303a" stroke="#17303a" stroke-width="0.2" letter-spacing="0.1">20</text>
<text transform="translate(628.2 590.89) scale(0.96 1)" x="0" y="0" text-anchor="middle" font-size="15.2" fill="#17303a" stroke="#17303a" stroke-width="0.2" letter-spacing="0.1">21</text>
<text transform="translate(698.5 590.89) scale(0.96 1)" x="0" y="0" text-anchor="middle" font-size="15.2" fill="#17303a" stroke="#17303a" stroke-width="0.2" letter-spacing="0.1">23</text>
<text transform="translate(770.6 590.89) scale(0.96 1)" x="0" y="0" text-anchor="middle" font-size="15.2" fill="#17303a" stroke="#17303a" stroke-width="0.2" letter-spacing="0.1">25</text>
<text transform="translate(842.2 590.89) scale(0.96 1)" x="0" y="0" text-anchor="middle" font-size="15.2" fill="#17303a" stroke="#17303a" stroke-width="0.2" letter-spacing="0.1">26</text>
<text transform="translate(914.7 590.89) scale(0.96 1)" x="0" y="0" text-anchor="middle" font-size="15.2" fill="#17303a" stroke="#17303a" stroke-width="0.2" letter-spacing="0.1">29</text>
<text transform="translate(987.2 590.89) scale(0.96 1)" x="0" y="0" text-anchor="middle" font-size="15.2" fill="#17303a" stroke="#17303a" stroke-width="0.2" letter-spacing="0.1">31</text>
<text transform="translate(5.8 611.10) scale(0.967 1)" x="0" y="0" font-weight="bold" font-size="15.2" fill="#1f2223">Boiler water Inlet/Outlet</text>
<text transform="translate(229 613.34) scale(0.96 1)" x="0" y="0" text-anchor="middle" font-size="15.2" fill="#1f2223" stroke="#1f2223" stroke-width="0.2" letter-spacing="0.5">(R)</text>
<text transform="translate(285.3 612.94) scale(0.96 1)" x="0" y="0" text-anchor="middle" font-size="15.2" fill="#1f2223" stroke="#1f2223" stroke-width="0.2" letter-spacing="0.1">5/4&quot;</text>
<text transform="translate(352.7 612.94) scale(0.96 1)" x="0" y="0" text-anchor="middle" font-size="15.2" fill="#1f2223" stroke="#1f2223" stroke-width="0.2" letter-spacing="0.1">5/4&quot;</text>
<text transform="translate(419.8 612.94) scale(0.96 1)" x="0" y="0" text-anchor="middle" font-size="15.2" fill="#1f2223" stroke="#1f2223" stroke-width="0.2" letter-spacing="0.1">5/4&quot;</text>
<text transform="translate(488.5 612.94) scale(0.96 1)" x="0" y="0" text-anchor="middle" font-size="15.2" fill="#1f2223" stroke="#1f2223" stroke-width="0.2" letter-spacing="0.1">5/4&quot;</text>
<text transform="translate(558.2 612.94) scale(0.96 1)" x="0" y="0" text-anchor="middle" font-size="15.2" fill="#1f2223" stroke="#1f2223" stroke-width="0.2" letter-spacing="0.1">5/4&quot;</text>
<text transform="translate(628.2 612.94) scale(0.96 1)" x="0" y="0" text-anchor="middle" font-size="15.2" fill="#1f2223" stroke="#1f2223" stroke-width="0.2" letter-spacing="0.1">5/4&quot;</text>
<text transform="translate(698.5 612.94) scale(0.96 1)" x="0" y="0" text-anchor="middle" font-size="15.2" fill="#1f2223" stroke="#1f2223" stroke-width="0.2" letter-spacing="0.1">5/4&quot;</text>
<text transform="translate(770.6 612.94) scale(0.96 1)" x="0" y="0" text-anchor="middle" font-size="15.2" fill="#1f2223" stroke="#1f2223" stroke-width="0.2" letter-spacing="0.1">5/4&quot;</text>
<text transform="translate(842.2 612.94) scale(0.96 1)" x="0" y="0" text-anchor="middle" font-size="15.2" fill="#1f2223" stroke="#1f2223" stroke-width="0.2" letter-spacing="0.1">6/4&quot;</text>
<text transform="translate(914.7 612.94) scale(0.96 1)" x="0" y="0" text-anchor="middle" font-size="15.2" fill="#1f2223" stroke="#1f2223" stroke-width="0.2" letter-spacing="0.1">2&quot;</text>
<text transform="translate(987.2 612.94) scale(0.96 1)" x="0" y="0" text-anchor="middle" font-size="15.2" fill="#1f2223" stroke="#1f2223" stroke-width="0.2" letter-spacing="0.1">2&quot;</text>
<text transform="translate(5.8 633.40) scale(0.967 1)" x="0" y="0" font-weight="bold" font-size="15.2" fill="#17303a">Filling/Draining</text>
<text transform="translate(229 635.39) scale(0.96 1)" x="0" y="0" text-anchor="middle" font-size="15.2" fill="#17303a" stroke="#17303a" stroke-width="0.2" letter-spacing="0.5">(R)</text>
<text transform="translate(285.3 635.00) scale(0.96 1)" x="0" y="0" text-anchor="middle" font-size="15.2" fill="#17303a" stroke="#17303a" stroke-width="0.2" letter-spacing="0.1">1/2&quot;</text>
<text transform="translate(352.7 635.00) scale(0.96 1)" x="0" y="0" text-anchor="middle" font-size="15.2" fill="#17303a" stroke="#17303a" stroke-width="0.2" letter-spacing="0.1">1/2&quot;</text>
<text transform="translate(419.8 635.00) scale(0.96 1)" x="0" y="0" text-anchor="middle" font-size="15.2" fill="#17303a" stroke="#17303a" stroke-width="0.2" letter-spacing="0.1">1/2&quot;</text>
<text transform="translate(488.5 635.00) scale(0.96 1)" x="0" y="0" text-anchor="middle" font-size="15.2" fill="#17303a" stroke="#17303a" stroke-width="0.2" letter-spacing="0.1">1/2&quot;</text>
<text transform="translate(558.2 635.00) scale(0.96 1)" x="0" y="0" text-anchor="middle" font-size="15.2" fill="#17303a" stroke="#17303a" stroke-width="0.2" letter-spacing="0.1">1/2&quot;</text>
<text transform="translate(628.2 635.00) scale(0.96 1)" x="0" y="0" text-anchor="middle" font-size="15.2" fill="#17303a" stroke="#17303a" stroke-width="0.2" letter-spacing="0.1">1/2&quot;</text>
<text transform="translate(698.5 635.00) scale(0.96 1)" x="0" y="0" text-anchor="middle" font-size="15.2" fill="#17303a" stroke="#17303a" stroke-width="0.2" letter-spacing="0.1">1/2&quot;</text>
<text transform="translate(770.6 635.00) scale(0.96 1)" x="0" y="0" text-anchor="middle" font-size="15.2" fill="#17303a" stroke="#17303a" stroke-width="0.2" letter-spacing="0.1">1/2&quot;</text>
<text transform="translate(842.2 635.00) scale(0.96 1)" x="0" y="0" text-anchor="middle" font-size="15.2" fill="#17303a" stroke="#17303a" stroke-width="0.2" letter-spacing="0.1">1&quot;</text>
<text transform="translate(914.7 635.00) scale(0.96 1)" x="0" y="0" text-anchor="middle" font-size="15.2" fill="#17303a" stroke="#17303a" stroke-width="0.2" letter-spacing="0.1">1&quot;</text>
<text transform="translate(987.2 635.00) scale(0.96 1)" x="0" y="0" text-anchor="middle" font-size="15.2" fill="#17303a" stroke="#17303a" stroke-width="0.2" letter-spacing="0.1">1&quot;</text>
<text transform="translate(5.8 655.40) scale(0.967 1)" x="0" y="0" font-weight="bold" font-size="15.2" fill="#1f2223">Flue gas temp. (o / g)</text>
<text transform="translate(229 657.45) scale(0.96 1)" x="0" y="0" text-anchor="middle" font-size="15.2" fill="#1f2223" stroke="#1f2223" stroke-width="0.2" letter-spacing="0.5">(°C)</text>
<text transform="translate(285.3 657.05) scale(0.96 1)" x="0" y="0" text-anchor="middle" font-size="15.2" fill="#1f2223" stroke="#1f2223" stroke-width="0.2" letter-spacing="0.1">170</text>
<text transform="translate(352.7 657.05) scale(0.96 1)" x="0" y="0" text-anchor="middle" font-size="15.2" fill="#1f2223" stroke="#1f2223" stroke-width="0.2" letter-spacing="0.1">170</text>
<text transform="translate(419.8 657.05) scale(0.96 1)" x="0" y="0" text-anchor="middle" font-size="15.2" fill="#1f2223" stroke="#1f2223" stroke-width="0.2" letter-spacing="0.1">170</text>
<text transform="translate(488.5 657.05) scale(0.96 1)" x="0" y="0" text-anchor="middle" font-size="15.2" fill="#1f2223" stroke="#1f2223" stroke-width="0.2" letter-spacing="0.1">170</text>
<text transform="translate(558.2 657.05) scale(0.96 1)" x="0" y="0" text-anchor="middle" font-size="15.2" fill="#1f2223" stroke="#1f2223" stroke-width="0.2" letter-spacing="0.1">170</text>
<text transform="translate(628.2 657.05) scale(0.96 1)" x="0" y="0" text-anchor="middle" font-size="15.2" fill="#1f2223" stroke="#1f2223" stroke-width="0.2" letter-spacing="0.1">170</text>
<text transform="translate(698.5 657.05) scale(0.96 1)" x="0" y="0" text-anchor="middle" font-size="15.2" fill="#1f2223" stroke="#1f2223" stroke-width="0.2" letter-spacing="0.1">180</text>
<text transform="translate(770.6 657.05) scale(0.96 1)" x="0" y="0" text-anchor="middle" font-size="15.2" fill="#1f2223" stroke="#1f2223" stroke-width="0.2" letter-spacing="0.1">180</text>
<text transform="translate(842.2 657.05) scale(0.96 1)" x="0" y="0" text-anchor="middle" font-size="15.2" fill="#1f2223" stroke="#1f2223" stroke-width="0.2" letter-spacing="0.1">190</text>
<text transform="translate(914.7 657.05) scale(0.96 1)" x="0" y="0" text-anchor="middle" font-size="15.2" fill="#1f2223" stroke="#1f2223" stroke-width="0.2" letter-spacing="0.1">200</text>
<text transform="translate(987.2 657.05) scale(0.96 1)" x="0" y="0" text-anchor="middle" font-size="15.2" fill="#1f2223" stroke="#1f2223" stroke-width="0.2" letter-spacing="0.1">200</text>
<text transform="translate(5.8 677.20) scale(0.967 1)" x="0" y="0" font-weight="bold" font-size="15.2" fill="#17303a">Flue gas temp. (wood)</text>
<text transform="translate(229 679.50) scale(0.96 1)" x="0" y="0" text-anchor="middle" font-size="15.2" fill="#17303a" stroke="#17303a" stroke-width="0.2" letter-spacing="0.5">(°C)</text>
<text transform="translate(285.3 679.11) scale(0.96 1)" x="0" y="0" text-anchor="middle" font-size="15.2" fill="#17303a" stroke="#17303a" stroke-width="0.2" letter-spacing="0.1">190</text>
<text transform="translate(352.7 679.11) scale(0.96 1)" x="0" y="0" text-anchor="middle" font-size="15.2" fill="#17303a" stroke="#17303a" stroke-width="0.2" letter-spacing="0.1">190</text>
<text transform="translate(419.8 679.11) scale(0.96 1)" x="0" y="0" text-anchor="middle" font-size="15.2" fill="#17303a" stroke="#17303a" stroke-width="0.2" letter-spacing="0.1">190</text>
<text transform="translate(488.5 679.11) scale(0.96 1)" x="0" y="0" text-anchor="middle" font-size="15.2" fill="#17303a" stroke="#17303a" stroke-width="0.2" letter-spacing="0.1">190</text>
<text transform="translate(558.2 679.11) scale(0.96 1)" x="0" y="0" text-anchor="middle" font-size="15.2" fill="#17303a" stroke="#17303a" stroke-width="0.2" letter-spacing="0.1">190</text>
<text transform="translate(628.2 679.11) scale(0.96 1)" x="0" y="0" text-anchor="middle" font-size="15.2" fill="#17303a" stroke="#17303a" stroke-width="0.2" letter-spacing="0.1">190</text>
<text transform="translate(698.5 679.11) scale(0.96 1)" x="0" y="0" text-anchor="middle" font-size="15.2" fill="#17303a" stroke="#17303a" stroke-width="0.2" letter-spacing="0.1">220</text>
<text transform="translate(770.6 679.11) scale(0.96 1)" x="0" y="0" text-anchor="middle" font-size="15.2" fill="#17303a" stroke="#17303a" stroke-width="0.2" letter-spacing="0.1">220</text>
<text transform="translate(842.2 679.11) scale(0.96 1)" x="0" y="0" text-anchor="middle" font-size="15.2" fill="#17303a" stroke="#17303a" stroke-width="0.2" letter-spacing="0.1">230</text>
<text transform="translate(914.7 679.11) scale(0.96 1)" x="0" y="0" text-anchor="middle" font-size="15.2" fill="#17303a" stroke="#17303a" stroke-width="0.2" letter-spacing="0.1">240</text>
<text transform="translate(987.2 679.11) scale(0.96 1)" x="0" y="0" text-anchor="middle" font-size="15.2" fill="#17303a" stroke="#17303a" stroke-width="0.2" letter-spacing="0.1">240</text>
<text transform="translate(5.8 699.20) scale(0.967 1)" x="0" y="0" font-weight="bold" font-size="15.2" fill="#1f2223">Max. operat. temperature</text>
<text transform="translate(229 701.56) scale(0.96 1)" x="0" y="0" text-anchor="middle" font-size="15.2" fill="#1f2223" stroke="#1f2223" stroke-width="0.2" letter-spacing="0.5">(°C)</text>
<text transform="translate(285.3 701.16) scale(0.96 1)" x="0" y="0" text-anchor="middle" font-size="15.2" fill="#1f2223" stroke="#1f2223" stroke-width="0.2" letter-spacing="0.1">90</text>
<text transform="translate(352.7 701.16) scale(0.96 1)" x="0" y="0" text-anchor="middle" font-size="15.2" fill="#1f2223" stroke="#1f2223" stroke-width="0.2" letter-spacing="0.1">90</text>
<text transform="translate(419.8 701.16) scale(0.96 1)" x="0" y="0" text-anchor="middle" font-size="15.2" fill="#1f2223" stroke="#1f2223" stroke-width="0.2" letter-spacing="0.1">90</text>
<text transform="translate(488.5 701.16) scale(0.96 1)" x="0" y="0" text-anchor="middle" font-size="15.2" fill="#1f2223" stroke="#1f2223" stroke-width="0.2" letter-spacing="0.1">90</text>
<text transform="translate(558.2 701.16) scale(0.96 1)" x="0" y="0" text-anchor="middle" font-size="15.2" fill="#1f2223" stroke="#1f2223" stroke-width="0.2" letter-spacing="0.1">90</text>
<text transform="translate(628.2 701.16) scale(0.96 1)" x="0" y="0" text-anchor="middle" font-size="15.2" fill="#1f2223" stroke="#1f2223" stroke-width="0.2" letter-spacing="0.1">90</text>
<text transform="translate(698.5 701.16) scale(0.96 1)" x="0" y="0" text-anchor="middle" font-size="15.2" fill="#1f2223" stroke="#1f2223" stroke-width="0.2" letter-spacing="0.1">90</text>
<text transform="translate(770.6 701.16) scale(0.96 1)" x="0" y="0" text-anchor="middle" font-size="15.2" fill="#1f2223" stroke="#1f2223" stroke-width="0.2" letter-spacing="0.1">90</text>
<text transform="translate(842.2 701.16) scale(0.96 1)" x="0" y="0" text-anchor="middle" font-size="15.2" fill="#1f2223" stroke="#1f2223" stroke-width="0.2" letter-spacing="0.1">90</text>
<text transform="translate(914.7 701.16) scale(0.96 1)" x="0" y="0" text-anchor="middle" font-size="15.2" fill="#1f2223" stroke="#1f2223" stroke-width="0.2" letter-spacing="0.1">90</text>
<text transform="translate(987.2 701.16) scale(0.96 1)" x="0" y="0" text-anchor="middle" font-size="15.2" fill="#1f2223" stroke="#1f2223" stroke-width="0.2" letter-spacing="0.1">90</text>
<text transform="translate(5.8 722.50) scale(0.967 1)" x="0" y="0" font-weight="bold" font-size="15.2" fill="#17303a">Max. operat. pressure</text>
<text transform="translate(229 723.62) scale(0.96 1)" x="0" y="0" text-anchor="middle" font-size="15.2" fill="#17303a" stroke="#17303a" stroke-width="0.2" letter-spacing="0.5">(bar)</text>
<text transform="translate(285.3 723.22) scale(0.96 1)" x="0" y="0" text-anchor="middle" font-size="15.2" fill="#17303a" stroke="#17303a" stroke-width="0.2" letter-spacing="0.1">2,5</text>
<text transform="translate(352.7 723.22) scale(0.96 1)" x="0" y="0" text-anchor="middle" font-size="15.2" fill="#17303a" stroke="#17303a" stroke-width="0.2" letter-spacing="0.1">2,5</text>
<text transform="translate(419.8 723.22) scale(0.96 1)" x="0" y="0" text-anchor="middle" font-size="15.2" fill="#17303a" stroke="#17303a" stroke-width="0.2" letter-spacing="0.1">2,5</text>
<text transform="translate(488.5 723.22) scale(0.96 1)" x="0" y="0" text-anchor="middle" font-size="15.2" fill="#17303a" stroke="#17303a" stroke-width="0.2" letter-spacing="0.1">2,5</text>
<text transform="translate(558.2 723.22) scale(0.96 1)" x="0" y="0" text-anchor="middle" font-size="15.2" fill="#17303a" stroke="#17303a" stroke-width="0.2" letter-spacing="0.1">2,5</text>
<text transform="translate(628.2 723.22) scale(0.96 1)" x="0" y="0" text-anchor="middle" font-size="15.2" fill="#17303a" stroke="#17303a" stroke-width="0.2" letter-spacing="0.1">2,5</text>
<text transform="translate(698.5 723.22) scale(0.96 1)" x="0" y="0" text-anchor="middle" font-size="15.2" fill="#17303a" stroke="#17303a" stroke-width="0.2" letter-spacing="0.1">2,5</text>
<text transform="translate(770.6 723.22) scale(0.96 1)" x="0" y="0" text-anchor="middle" font-size="15.2" fill="#17303a" stroke="#17303a" stroke-width="0.2" letter-spacing="0.1">2,5</text>
<text transform="translate(842.2 723.22) scale(0.96 1)" x="0" y="0" text-anchor="middle" font-size="15.2" fill="#17303a" stroke="#17303a" stroke-width="0.2" letter-spacing="0.1">2,5</text>
<text transform="translate(914.7 723.22) scale(0.96 1)" x="0" y="0" text-anchor="middle" font-size="15.2" fill="#17303a" stroke="#17303a" stroke-width="0.2" letter-spacing="0.1">2,5</text>
<text transform="translate(987.2 723.22) scale(0.96 1)" x="0" y="0" text-anchor="middle" font-size="15.2" fill="#17303a" stroke="#17303a" stroke-width="0.2" letter-spacing="0.1">2,5</text>
<text transform="translate(5.8 744.40) scale(0.967 1)" x="0" y="0" font-weight="bold" font-size="15.2" fill="#1f2223">Depth boiler A</text>
<text transform="translate(229 745.67) scale(0.96 1)" x="0" y="0" text-anchor="middle" font-size="15.2" fill="#1f2223" stroke="#1f2223" stroke-width="0.2" letter-spacing="0.5">(mm)</text>
<text transform="translate(285.3 745.27) scale(0.96 1)" x="0" y="0" text-anchor="middle" font-size="15.2" fill="#1f2223" stroke="#1f2223" stroke-width="0.2" letter-spacing="0.1">985</text>
<text transform="translate(352.7 745.27) scale(0.96 1)" x="0" y="0" text-anchor="middle" font-size="15.2" fill="#1f2223" stroke="#1f2223" stroke-width="0.2" letter-spacing="0.1">985</text>
<text transform="translate(419.8 745.27) scale(0.96 1)" x="0" y="0" text-anchor="middle" font-size="15.2" fill="#1f2223" stroke="#1f2223" stroke-width="0.2" letter-spacing="0.1">1020</text>
<text transform="translate(488.5 745.27) scale(0.96 1)" x="0" y="0" text-anchor="middle" font-size="15.2" fill="#1f2223" stroke="#1f2223" stroke-width="0.2" letter-spacing="0.1">1020</text>
<text transform="translate(558.2 745.27) scale(0.96 1)" x="0" y="0" text-anchor="middle" font-size="15.2" fill="#1f2223" stroke="#1f2223" stroke-width="0.2" letter-spacing="0.1">1020</text>
<text transform="translate(628.2 745.27) scale(0.96 1)" x="0" y="0" text-anchor="middle" font-size="15.2" fill="#1f2223" stroke="#1f2223" stroke-width="0.2" letter-spacing="0.1">1020</text>
<text transform="translate(698.5 745.27) scale(0.96 1)" x="0" y="0" text-anchor="middle" font-size="15.2" fill="#1f2223" stroke="#1f2223" stroke-width="0.2" letter-spacing="0.1">1142</text>
<text transform="translate(770.6 745.27) scale(0.96 1)" x="0" y="0" text-anchor="middle" font-size="15.2" fill="#1f2223" stroke="#1f2223" stroke-width="0.2" letter-spacing="0.1">1142</text>
<text transform="translate(842.2 745.27) scale(0.96 1)" x="0" y="0" text-anchor="middle" font-size="15.2" fill="#1f2223" stroke="#1f2223" stroke-width="0.2" letter-spacing="0.1">1250</text>
<text transform="translate(914.7 745.27) scale(0.96 1)" x="0" y="0" text-anchor="middle" font-size="15.2" fill="#1f2223" stroke="#1f2223" stroke-width="0.2" letter-spacing="0.1">1250</text>
<text transform="translate(987.2 745.27) scale(0.96 1)" x="0" y="0" text-anchor="middle" font-size="15.2" fill="#1f2223" stroke="#1f2223" stroke-width="0.2" letter-spacing="0.1">1350</text>
<text transform="translate(5.8 766.60) scale(0.967 1)" x="0" y="0" font-weight="bold" font-size="15.2" fill="#17303a">Height of the boiler B</text>
<text transform="translate(229 767.73) scale(0.96 1)" x="0" y="0" text-anchor="middle" font-size="15.2" fill="#17303a" stroke="#17303a" stroke-width="0.2" letter-spacing="0.5">(mm)</text>
<text transform="translate(285.3 767.33) scale(0.96 1)" x="0" y="0" text-anchor="middle" font-size="15.2" fill="#17303a" stroke="#17303a" stroke-width="0.2" letter-spacing="0.1">1255</text>
<text transform="translate(352.7 767.33) scale(0.96 1)" x="0" y="0" text-anchor="middle" font-size="15.2" fill="#17303a" stroke="#17303a" stroke-width="0.2" letter-spacing="0.1">1255</text>
<text transform="translate(419.8 767.33) scale(0.96 1)" x="0" y="0" text-anchor="middle" font-size="15.2" fill="#17303a" stroke="#17303a" stroke-width="0.2" letter-spacing="0.1">1255</text>
<text transform="translate(488.5 767.33) scale(0.96 1)" x="0" y="0" text-anchor="middle" font-size="15.2" fill="#17303a" stroke="#17303a" stroke-width="0.2" letter-spacing="0.1">1255</text>
<text transform="translate(558.2 767.33) scale(0.96 1)" x="0" y="0" text-anchor="middle" font-size="15.2" fill="#17303a" stroke="#17303a" stroke-width="0.2" letter-spacing="0.1">1255</text>
<text transform="translate(628.2 767.33) scale(0.96 1)" x="0" y="0" text-anchor="middle" font-size="15.2" fill="#17303a" stroke="#17303a" stroke-width="0.2" letter-spacing="0.1">1255</text>
<text transform="translate(698.5 767.33) scale(0.96 1)" x="0" y="0" text-anchor="middle" font-size="15.2" fill="#17303a" stroke="#17303a" stroke-width="0.2" letter-spacing="0.1">1255</text>
<text transform="translate(770.6 767.33) scale(0.96 1)" x="0" y="0" text-anchor="middle" font-size="15.2" fill="#17303a" stroke="#17303a" stroke-width="0.2" letter-spacing="0.1">1355</text>
<text transform="translate(842.2 767.33) scale(0.96 1)" x="0" y="0" text-anchor="middle" font-size="15.2" fill="#17303a" stroke="#17303a" stroke-width="0.2" letter-spacing="0.1">1430</text>
<text transform="translate(914.7 767.33) scale(0.96 1)" x="0" y="0" text-anchor="middle" font-size="15.2" fill="#17303a" stroke="#17303a" stroke-width="0.2" letter-spacing="0.1">1430</text>
<text transform="translate(987.2 767.33) scale(0.96 1)" x="0" y="0" text-anchor="middle" font-size="15.2" fill="#17303a" stroke="#17303a" stroke-width="0.2" letter-spacing="0.1">1430</text>
<text transform="translate(5.8 789.00) scale(0.967 1)" x="0" y="0" font-weight="bold" font-size="15.2" fill="#1f2223">Width of the body C</text>
<text transform="translate(229 789.78) scale(0.96 1)" x="0" y="0" text-anchor="middle" font-size="15.2" fill="#1f2223" stroke="#1f2223" stroke-width="0.2" letter-spacing="0.5">(mm)</text>
<text transform="translate(285.3 789.38) scale(0.96 1)" x="0" y="0" text-anchor="middle" font-size="15.2" fill="#1f2223" stroke="#1f2223" stroke-width="0.2" letter-spacing="0.1">420</text>
<text transform="translate(352.7 789.38) scale(0.96 1)" x="0" y="0" text-anchor="middle" font-size="15.2" fill="#1f2223" stroke="#1f2223" stroke-width="0.2" letter-spacing="0.1">420</text>
<text transform="translate(419.8 789.38) scale(0.96 1)" x="0" y="0" text-anchor="middle" font-size="15.2" fill="#1f2223" stroke="#1f2223" stroke-width="0.2" letter-spacing="0.1">420</text>
<text transform="translate(488.5 789.38) scale(0.96 1)" x="0" y="0" text-anchor="middle" font-size="15.2" fill="#1f2223" stroke="#1f2223" stroke-width="0.2" letter-spacing="0.1">470</text>
<text transform="translate(558.2 789.38) scale(0.96 1)" x="0" y="0" text-anchor="middle" font-size="15.2" fill="#1f2223" stroke="#1f2223" stroke-width="0.2" letter-spacing="0.1">520</text>
<text transform="translate(628.2 789.38) scale(0.96 1)" x="0" y="0" text-anchor="middle" font-size="15.2" fill="#1f2223" stroke="#1f2223" stroke-width="0.2" letter-spacing="0.1">570</text>
<text transform="translate(698.5 789.38) scale(0.96 1)" x="0" y="0" text-anchor="middle" font-size="15.2" fill="#1f2223" stroke="#1f2223" stroke-width="0.2" letter-spacing="0.1">570</text>
<text transform="translate(770.6 789.38) scale(0.96 1)" x="0" y="0" text-anchor="middle" font-size="15.2" fill="#1f2223" stroke="#1f2223" stroke-width="0.2" letter-spacing="0.1">570</text>
<text transform="translate(842.2 789.38) scale(0.96 1)" x="0" y="0" text-anchor="middle" font-size="15.2" fill="#1f2223" stroke="#1f2223" stroke-width="0.2" letter-spacing="0.1">570</text>
<text transform="translate(914.7 789.38) scale(0.96 1)" x="0" y="0" text-anchor="middle" font-size="15.2" fill="#1f2223" stroke="#1f2223" stroke-width="0.2" letter-spacing="0.1">620</text>
<text transform="translate(987.2 789.38) scale(0.96 1)" x="0" y="0" text-anchor="middle" font-size="15.2" fill="#1f2223" stroke="#1f2223" stroke-width="0.2" letter-spacing="0.1">620</text>
<text transform="translate(5.8 810.70) scale(0.967 1)" x="0" y="0" font-weight="bold" font-size="15.2" fill="#17303a">Total width of the boiler D</text>
<text transform="translate(229 811.84) scale(0.96 1)" x="0" y="0" text-anchor="middle" font-size="15.2" fill="#17303a" stroke="#17303a" stroke-width="0.2" letter-spacing="0.5">(mm)</text>
<text transform="translate(285.3 811.44) scale(0.96 1)" x="0" y="0" text-anchor="middle" font-size="15.2" fill="#17303a" stroke="#17303a" stroke-width="0.2" letter-spacing="0.1">470</text>
<text transform="translate(352.7 811.44) scale(0.96 1)" x="0" y="0" text-anchor="middle" font-size="15.2" fill="#17303a" stroke="#17303a" stroke-width="0.2" letter-spacing="0.1">470</text>
<text transform="translate(419.8 811.44) scale(0.96 1)" x="0" y="0" text-anchor="middle" font-size="15.2" fill="#17303a" stroke="#17303a" stroke-width="0.2" letter-spacing="0.1">470</text>
<text transform="translate(488.5 811.44) scale(0.96 1)" x="0" y="0" text-anchor="middle" font-size="15.2" fill="#17303a" stroke="#17303a" stroke-width="0.2" letter-spacing="0.1">520</text>
<text transform="translate(558.2 811.44) scale(0.96 1)" x="0" y="0" text-anchor="middle" font-size="15.2" fill="#17303a" stroke="#17303a" stroke-width="0.2" letter-spacing="0.1">570</text>
<text transform="translate(628.2 811.44) scale(0.96 1)" x="0" y="0" text-anchor="middle" font-size="15.2" fill="#17303a" stroke="#17303a" stroke-width="0.2" letter-spacing="0.1">620</text>
<text transform="translate(698.5 811.44) scale(0.96 1)" x="0" y="0" text-anchor="middle" font-size="15.2" fill="#17303a" stroke="#17303a" stroke-width="0.2" letter-spacing="0.1">620</text>
<text transform="translate(770.6 811.44) scale(0.96 1)" x="0" y="0" text-anchor="middle" font-size="15.2" fill="#17303a" stroke="#17303a" stroke-width="0.2" letter-spacing="0.1">620</text>
<text transform="translate(842.2 811.44) scale(0.96 1)" x="0" y="0" text-anchor="middle" font-size="15.2" fill="#17303a" stroke="#17303a" stroke-width="0.2" letter-spacing="0.1">640</text>
<text transform="translate(914.7 811.44) scale(0.96 1)" x="0" y="0" text-anchor="middle" font-size="15.2" fill="#17303a" stroke="#17303a" stroke-width="0.2" letter-spacing="0.1">690</text>
<text transform="translate(987.2 811.44) scale(0.96 1)" x="0" y="0" text-anchor="middle" font-size="15.2" fill="#17303a" stroke="#17303a" stroke-width="0.2" letter-spacing="0.1">690</text>
<text transform="translate(5.8 832.30) scale(0.967 1)" x="0" y="0" font-weight="bold" font-size="15.2" fill="#1f2223" textLength="155" lengthAdjust="spacing" xml:space="preserve">Depth of boiler base  E</text>
<text transform="translate(229 833.89) scale(0.96 1)" x="0" y="0" text-anchor="middle" font-size="15.2" fill="#1f2223" stroke="#1f2223" stroke-width="0.2" letter-spacing="0.5">(mm)</text>
<text transform="translate(285.3 833.49) scale(0.96 1)" x="0" y="0" text-anchor="middle" font-size="15.2" fill="#1f2223" stroke="#1f2223" stroke-width="0.2" letter-spacing="0.1">565</text>
<text transform="translate(352.7 833.49) scale(0.96 1)" x="0" y="0" text-anchor="middle" font-size="15.2" fill="#1f2223" stroke="#1f2223" stroke-width="0.2" letter-spacing="0.1">565</text>
<text transform="translate(419.8 833.49) scale(0.96 1)" x="0" y="0" text-anchor="middle" font-size="15.2" fill="#1f2223" stroke="#1f2223" stroke-width="0.2" letter-spacing="0.1">600</text>
<text transform="translate(488.5 833.49) scale(0.96 1)" x="0" y="0" text-anchor="middle" font-size="15.2" fill="#1f2223" stroke="#1f2223" stroke-width="0.2" letter-spacing="0.1">600</text>
<text transform="translate(558.2 833.49) scale(0.96 1)" x="0" y="0" text-anchor="middle" font-size="15.2" fill="#1f2223" stroke="#1f2223" stroke-width="0.2" letter-spacing="0.1">600</text>
<text transform="translate(628.2 833.49) scale(0.96 1)" x="0" y="0" text-anchor="middle" font-size="15.2" fill="#1f2223" stroke="#1f2223" stroke-width="0.2" letter-spacing="0.1">600</text>
<text transform="translate(698.5 833.49) scale(0.96 1)" x="0" y="0" text-anchor="middle" font-size="15.2" fill="#1f2223" stroke="#1f2223" stroke-width="0.2" letter-spacing="0.1">690</text>
<text transform="translate(770.6 833.49) scale(0.96 1)" x="0" y="0" text-anchor="middle" font-size="15.2" fill="#1f2223" stroke="#1f2223" stroke-width="0.2" letter-spacing="0.1">725</text>
<text transform="translate(842.2 833.49) scale(0.96 1)" x="0" y="0" text-anchor="middle" font-size="15.2" fill="#1f2223" stroke="#1f2223" stroke-width="0.2" letter-spacing="0.1">815</text>
<text transform="translate(914.7 833.49) scale(0.96 1)" x="0" y="0" text-anchor="middle" font-size="15.2" fill="#1f2223" stroke="#1f2223" stroke-width="0.2" letter-spacing="0.1">815</text>
<text transform="translate(987.2 833.49) scale(0.96 1)" x="0" y="0" text-anchor="middle" font-size="15.2" fill="#1f2223" stroke="#1f2223" stroke-width="0.2" letter-spacing="0.1">915</text>
<text transform="translate(5.8 855.40) scale(0.967 1)" x="0" y="0" font-weight="bold" font-size="15.2" fill="#17303a">Height of return line F</text>
<text transform="translate(229 855.95) scale(0.96 1)" x="0" y="0" text-anchor="middle" font-size="15.2" fill="#17303a" stroke="#17303a" stroke-width="0.2" letter-spacing="0.5">(mm)</text>
<text transform="translate(285.3 855.55) scale(0.96 1)" x="0" y="0" text-anchor="middle" font-size="15.2" fill="#17303a" stroke="#17303a" stroke-width="0.2" letter-spacing="0.1">485</text>
<text transform="translate(352.7 855.55) scale(0.96 1)" x="0" y="0" text-anchor="middle" font-size="15.2" fill="#17303a" stroke="#17303a" stroke-width="0.2" letter-spacing="0.1">485</text>
<text transform="translate(419.8 855.55) scale(0.96 1)" x="0" y="0" text-anchor="middle" font-size="15.2" fill="#17303a" stroke="#17303a" stroke-width="0.2" letter-spacing="0.1">485</text>
<text transform="translate(488.5 855.55) scale(0.96 1)" x="0" y="0" text-anchor="middle" font-size="15.2" fill="#17303a" stroke="#17303a" stroke-width="0.2" letter-spacing="0.1">485</text>
<text transform="translate(558.2 855.55) scale(0.96 1)" x="0" y="0" text-anchor="middle" font-size="15.2" fill="#17303a" stroke="#17303a" stroke-width="0.2" letter-spacing="0.1">485</text>
<text transform="translate(628.2 855.55) scale(0.96 1)" x="0" y="0" text-anchor="middle" font-size="15.2" fill="#17303a" stroke="#17303a" stroke-width="0.2" letter-spacing="0.1">485</text>
<text transform="translate(698.5 855.55) scale(0.96 1)" x="0" y="0" text-anchor="middle" font-size="15.2" fill="#17303a" stroke="#17303a" stroke-width="0.2" letter-spacing="0.1">485</text>
<text transform="translate(770.6 855.55) scale(0.96 1)" x="0" y="0" text-anchor="middle" font-size="15.2" fill="#17303a" stroke="#17303a" stroke-width="0.2" letter-spacing="0.1">485</text>
<text transform="translate(842.2 855.55) scale(0.96 1)" x="0" y="0" text-anchor="middle" font-size="15.2" fill="#17303a" stroke="#17303a" stroke-width="0.2" letter-spacing="0.1">630</text>
<text transform="translate(914.7 855.55) scale(0.96 1)" x="0" y="0" text-anchor="middle" font-size="15.2" fill="#17303a" stroke="#17303a" stroke-width="0.2" letter-spacing="0.1">630</text>
<text transform="translate(987.2 855.55) scale(0.96 1)" x="0" y="0" text-anchor="middle" font-size="15.2" fill="#17303a" stroke="#17303a" stroke-width="0.2" letter-spacing="0.1">630</text>
<text transform="translate(5.8 877.10) scale(0.967 1)" x="0" y="0" font-weight="bold" font-size="15.2" fill="#1f2223">Max. length wood piece</text>
<text transform="translate(229 878.00) scale(0.96 1)" x="0" y="0" text-anchor="middle" font-size="15.2" fill="#1f2223" stroke="#1f2223" stroke-width="0.2" letter-spacing="0.5">(mm)</text>
<text transform="translate(285.3 877.60) scale(0.96 1)" x="0" y="0" text-anchor="middle" font-size="15.2" fill="#1f2223" stroke="#1f2223" stroke-width="0.2" letter-spacing="0.1">500</text>
<text transform="translate(352.7 877.60) scale(0.96 1)" x="0" y="0" text-anchor="middle" font-size="15.2" fill="#1f2223" stroke="#1f2223" stroke-width="0.2" letter-spacing="0.1">500</text>
<text transform="translate(419.8 877.60) scale(0.96 1)" x="0" y="0" text-anchor="middle" font-size="15.2" fill="#1f2223" stroke="#1f2223" stroke-width="0.2" letter-spacing="0.1">500</text>
<text transform="translate(488.5 877.60) scale(0.96 1)" x="0" y="0" text-anchor="middle" font-size="15.2" fill="#1f2223" stroke="#1f2223" stroke-width="0.2" letter-spacing="0.1">500</text>
<text transform="translate(558.2 877.60) scale(0.96 1)" x="0" y="0" text-anchor="middle" font-size="15.2" fill="#1f2223" stroke="#1f2223" stroke-width="0.2" letter-spacing="0.1">500</text>
<text transform="translate(628.2 877.60) scale(0.96 1)" x="0" y="0" text-anchor="middle" font-size="15.2" fill="#1f2223" stroke="#1f2223" stroke-width="0.2" letter-spacing="0.1">500</text>
<text transform="translate(698.5 877.60) scale(0.96 1)" x="0" y="0" text-anchor="middle" font-size="15.2" fill="#1f2223" stroke="#1f2223" stroke-width="0.2" letter-spacing="0.1">500</text>
<text transform="translate(770.6 877.60) scale(0.96 1)" x="0" y="0" text-anchor="middle" font-size="15.2" fill="#1f2223" stroke="#1f2223" stroke-width="0.2" letter-spacing="0.1">500</text>
<text transform="translate(842.2 877.60) scale(0.96 1)" x="0" y="0" text-anchor="middle" font-size="15.2" fill="#1f2223" stroke="#1f2223" stroke-width="0.2" letter-spacing="0.1">500</text>
<text transform="translate(914.7 877.60) scale(0.96 1)" x="0" y="0" text-anchor="middle" font-size="15.2" fill="#1f2223" stroke="#1f2223" stroke-width="0.2" letter-spacing="0.1">500</text>
<text transform="translate(987.2 877.60) scale(0.96 1)" x="0" y="0" text-anchor="middle" font-size="15.2" fill="#1f2223" stroke="#1f2223" stroke-width="0.2" letter-spacing="0.1">500</text>
<rect x="0" y="881.3" width="1024" height="22" fill="#addae2"/>
<rect x="0" y="903" width="1024" height="1" fill="#1ba5b1"/>
<text x="11" y="896.1" font-style="italic" font-size="12" fill="#1f3d45" textLength="1001" lengthAdjust="spacingAndGlyphs">* - the chimney inner diameter has to be determined according to the boiler rated thermal output and the height of the chimney and almost always it has to be bigger than the diameter of the flue gas exhaust.</text>
<rect x="0" y="27" width="1.2" height="877" fill="#2a8f95"/>
<rect x="1022.8" y="27" width="1.2" height="877" fill="#2a8f95"/>
</svg>
</body></html>
